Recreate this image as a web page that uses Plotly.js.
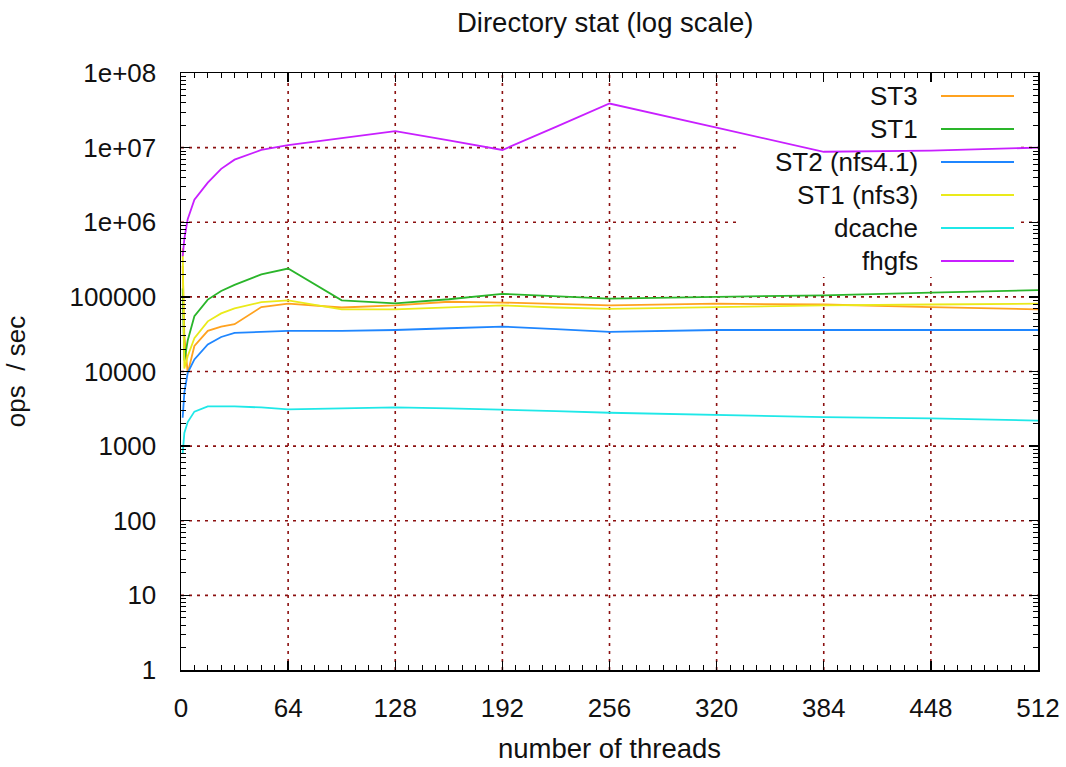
<!DOCTYPE html>
<html>
<head>
<meta charset="utf-8">
<script src="https://cdn.plot.ly/plotly-3.0.1.min.js"></script>
<style>
html,body{margin:0;padding:0;background:#fff;}
#chart{width:1066px;height:767px;}
</style>
</head>
<body>
<div id="chart"></div>
<script>
// ---- data ----
const threads = [1, 2, 4, 8, 16, 24, 32, 48, 64, 96, 128, 160, 192, 224, 256, 320, 384, 448, 512];

const st3      = [2.6e5, 3.0e4, 9.5e3, 2.2e4, 3.5e4, 4.0e4, 4.3e4, 7.3e4, 8.1e4, 7.2e4, 7.7e4, 8.6e4, 8.4e4, 8.0e4, 7.7e4, 8.1e4, 7.9e4, 7.3e4, 6.8e4];
const st1      = [1.3e5, 1.4e4, 2.6e4, 5.5e4, 9.2e4, 1.2e5, 1.45e5, 2.0e5, 2.4e5, 9.0e4, 8.2e4, 9.3e4, 1.1e5, 1.02e5, 9.5e4, 1.0e5, 1.05e5, 1.14e5, 1.23e5];
const st2nfs41 = [2.4e3, 5.2e3, 9.6e3, 1.45e4, 2.3e4, 2.9e4, 3.3e4, 3.4e4, 3.5e4, 3.5e4, 3.6e4, 3.8e4, 4.0e4, 3.7e4, 3.4e4, 3.6e4, 3.6e4, 3.6e4, 3.6e4];
const st1nfs3  = [4.5e5, 1.1e4, 1.6e4, 2.8e4, 4.7e4, 6.0e4, 7.0e4, 8.5e4, 9.0e4, 6.8e4, 6.8e4, 7.3e4, 7.7e4, 7.2e4, 6.9e4, 7.3e4, 7.7e4, 7.9e4, 8.1e4];
const dcache   = [800, 1.5e3, 2.1e3, 2.9e3, 3.4e3, 3.4e3, 3.4e3, 3.3e3, 3.1e3, 3.2e3, 3.3e3, 3.2e3, 3.1e3, 2.95e3, 2.8e3, 2.6e3, 2.45e3, 2.35e3, 2.2e3];
const fhgfs    = [3.5e5, 6.0e5, 1.1e6, 2.0e6, 3.4e6, 5.2e6, 6.9e6, 9.3e6, 1.08e7, 1.35e7, 1.66e7, 1.25e7, 9.3e6, 1.9e7, 3.9e7, 1.85e7, 8.8e6, 9.1e6, 1.0e7];

const seriesNames  = ["ST3", "ST1", "ST2 (nfs4.1)", "ST1 (nfs3)", "dcache", "fhgfs"];
const seriesValues = [st3, st1, st2nfs41, st1nfs3, dcache, fhgfs];
const seriesColors = ["#ffa21f", "#2ab52a", "#1f86ff", "#eaea1a", "#1fe8e8", "#c81fff"];

const yTickVals = [1, 10, 100, 1000, 10000, 100000, 1e6, 1e7, 1e8];
const yTickText = ["1", "10", "100", "1000", "10000", "100000", "1e+06", "1e+07", "1e+08"];
const xTickVals = [0, 64, 128, 192, 256, 320, 384, 448, 512];

// ---- build ----
const FONT = "Liberation Sans, Arial, sans-serif";
const Y_MIN_LOG = 0, Y_MAX_LOG = 8;
const traces = seriesNames.map((n, i) => ({
  type: "scatter", mode: "lines", name: n,
  x: threads, y: seriesValues[i],
  line: {color: seriesColors[i], width: 1.8},
  showlegend: false, hoverinfo: "skip"
}));

const yMinor = [];
for (let d = Y_MIN_LOG; d < Y_MAX_LOG; d++) for (let k = 2; k <= 9; k++) yMinor.push(k * Math.pow(10, d));

// gnuplot-like dotted grid, drawn as shapes under the data
const gridLine = {color: "#8b1010", width: 1.6, dash: "3px,5px"};
const shapes = [];
xTickVals.slice(1, -1).forEach(v => shapes.push({type: "line", layer: "below",
  xref: "x", yref: "paper", x0: v, x1: v, y0: 0, y1: 1, line: gridLine}));
yTickVals.slice(1, -1).forEach(v => {
  const p = (Math.log10(v) - Y_MIN_LOG) / (Y_MAX_LOG - Y_MIN_LOG);
  shapes.push({type: "line", layer: "below", xref: "paper", yref: "paper",
    x0: 0, x1: 1, y0: p, y1: p, line: gridLine});
});
// the key hides the grid behind it (not the data)
shapes.push({type: "rect", layer: "below", xref: "paper", yref: "paper",
  x0: 0.6488, x1: 0.9767, y0: 0.6583, y1: 1, fillcolor: "#ffffff", line: {width: 0}});

// key (gnuplot style: text right-aligned, sample on the right)
const annotations = [];
const keyTop = 96, keyStep = 33;
seriesNames.forEach((n, i) => {
  const py = keyTop + i * keyStep;
  const yp = (670 - py) / 597;
  annotations.push({xref: "paper", yref: "paper", x: (920 - 181) / 857, y: yp,
    xanchor: "right", yanchor: "middle", text: n, showarrow: false,
    font: {family: FONT, size: 26, color: "#111"}});
  shapes.push({type: "line", xref: "paper", yref: "paper",
    x0: (941 - 181) / 857, x1: (1014 - 181) / 857, y0: yp, y1: yp,
    line: {color: seriesColors[i], width: 1.8}});
});

const layout = {
  width: 1066, height: 767,
  margin: {l: 181, r: 28, t: 73, b: 97},
  paper_bgcolor: "#fff", plot_bgcolor: "#fff",
  font: {family: FONT, size: 26, color: "#111"},
  title: {text: "Directory stat (log scale)", font: {family: FONT, size: 27.5, color: "#111"},
          xref: "paper", x: 0.495, xanchor: "center", yref: "container", y: 1 - 22 / 767, yanchor: "middle"},
  xaxis: {
    range: [0, 512], tickmode: "array", tickvals: xTickVals, showgrid: false,
    ticks: "inside", ticklen: 9, tickwidth: 1.3, tickcolor: "#000",
    minor: {tickmode: "linear", tick0: 0, dtick: 8, ticks: "inside", ticklen: 5, tickwidth: 1, tickcolor: "#000", showgrid: false},
    showline: true, linecolor: "#000", linewidth: 1.5, mirror: "allticks", zeroline: false,
    ticklabelstandoff: 14,
    tickfont: {family: FONT, size: 26, color: "#111"},
    title: {text: "number of threads", font: {family: FONT, size: 27.5, color: "#111"}, standoff: 17}
  },
  yaxis: {
    type: "log", range: [Y_MIN_LOG, Y_MAX_LOG], tickmode: "array", tickvals: yTickVals, ticktext: yTickText, showgrid: false,
    ticks: "inside", ticklen: 9, tickwidth: 1.3, tickcolor: "#000",
    minor: {tickmode: "array", tickvals: yMinor, ticks: "inside", ticklen: 5, tickwidth: 1, tickcolor: "#000", showgrid: false},
    showline: true, linecolor: "#000", linewidth: 1.5, mirror: "allticks", zeroline: false,
    ticklabelstandoff: 18,
    tickfont: {family: FONT, size: 26, color: "#111"},
    title: {text: "ops  / sec", font: {family: FONT, size: 26, color: "#111"}, standoff: 36}
  },
  annotations: annotations,
  shapes: shapes
};

Plotly.newPlot("chart", traces, layout, {staticPlot: true, displayModeBar: false});
</script>
</body>
</html>
